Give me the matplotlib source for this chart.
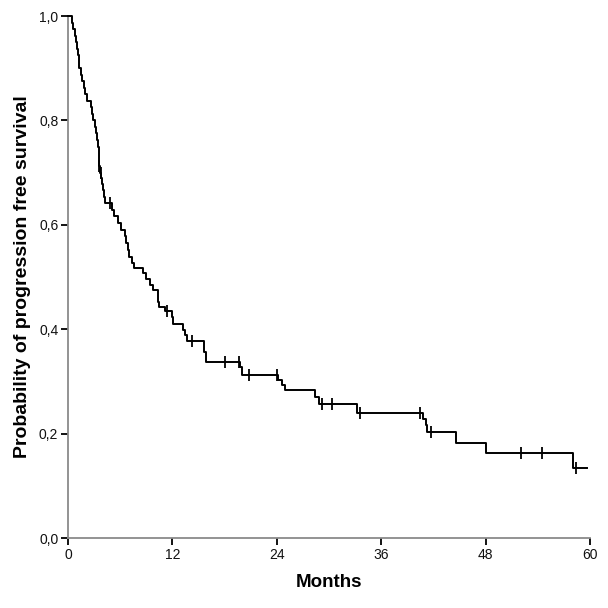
import matplotlib
matplotlib.use("Agg")
import matplotlib.pyplot as plt
import numpy as np
from matplotlib.ticker import FuncFormatter

# Kaplan-Meier step data (months, survival after each event)
event_times = [0.45, 0.6, 0.8, 0.95, 1.05, 1.15, 1.25, 1.3, 1.45, 1.6, 1.8, 1.95, 2.15,
               2.6, 2.75, 2.9, 3.05, 3.2, 3.3, 3.45, 3.52, 3.58, 3.7, 3.85, 3.95, 4.05,
               4.15, 4.3, 5.0, 5.3, 5.7, 6.1, 6.5, 6.7, 6.85, 7.0, 7.3, 7.6, 8.6, 9.0,
               9.4, 9.8, 10.3, 10.35, 10.45, 11.2, 11.9, 12.1, 13.2, 13.45, 13.7, 15.6,
               15.9, 19.8, 20.0, 24.1, 24.55, 24.95, 28.4, 28.8, 33.2, 40.8, 41.1, 41.3,
               44.6, 48.0, 58.1]
event_surv = [0.9875, 0.975, 0.9625, 0.95, 0.9375, 0.925, 0.9125, 0.90, 0.8875, 0.875,
              0.8625, 0.85, 0.8375, 0.825, 0.8125, 0.80, 0.7875, 0.775, 0.7625, 0.75,
              0.7375, 0.7125, 0.70, 0.69, 0.678, 0.666, 0.654, 0.641, 0.628, 0.616,
              0.603, 0.59, 0.578, 0.565, 0.552, 0.539, 0.527, 0.517, 0.507, 0.496,
              0.485, 0.475, 0.463, 0.452, 0.442, 0.434, 0.423, 0.41, 0.399, 0.388,
              0.377, 0.356, 0.337, 0.327, 0.312, 0.302, 0.293, 0.284, 0.27, 0.256,
              0.239, 0.228, 0.216, 0.2025, 0.182, 0.162, 0.134]
last_followup = 59.7

# censored observations (months)
censor_times = [3.6, 3.75, 4.85, 11.4, 14.2, 18.1, 19.65, 20.8, 24.0, 29.2, 30.4,
                33.6, 40.5, 41.7, 52.1, 54.5, 58.4]

x_ticks = [0, 12, 24, 36, 48, 60]
y_ticks = [0.0, 0.2, 0.4, 0.6, 0.8, 1.0]

xs = np.array([0.0] + event_times + [last_followup])
ys = np.array([1.0] + event_surv + [event_surv[-1]])

def surv_at(t):
    idx = np.searchsorted(xs, t, side="right") - 1
    return ys[idx]

censor_surv = [surv_at(t) for t in censor_times]

tick_font = ['Liberation Sans Narrow', 'Liberation Sans', 'DejaVu Sans']
lab_font = ['Liberation Sans', 'DejaVu Sans']

fig = plt.figure(figsize=(6.08, 6.08), dpi=100)
ax = fig.add_axes([68/608, 70/608, 522/608, 522/608])

ax.plot(xs, ys, drawstyle="steps-post", color="black", lw=1.4, clip_on=False, zorder=3)
ax.plot(censor_times, censor_surv, linestyle="none", marker="|", ms=8, mew=1.3,
        color="black", clip_on=False, zorder=4)

ax.set_xlim(0, 60)
ax.set_ylim(0, 1)
ax.set_xticks(x_ticks)
ax.set_yticks(y_ticks)
ax.yaxis.set_major_formatter(FuncFormatter(lambda v, p: f"{v:.1f}".replace(".", ",")))

for s in ["top", "right"]:
    ax.spines[s].set_visible(False)
for s in ["left", "bottom"]:
    ax.spines[s].set_color("#8a8a8a")
    ax.spines[s].set_linewidth(1.3)

ax.tick_params(axis="both", direction="out", length=5, width=1.3, color="black",
               labelsize=10, pad=2, labelcolor="#111111")
for lbl in ax.get_xticklabels() + ax.get_yticklabels():
    lbl.set_family(tick_font)

ax.set_xlabel("Months", fontsize=13.5, fontweight="bold", family=lab_font, labelpad=9)
ax.set_ylabel("Probability of progression free survival", fontsize=14,
              fontweight="bold", family=lab_font, labelpad=6)

fig.savefig("out.png", dpi=100, facecolor="white")
